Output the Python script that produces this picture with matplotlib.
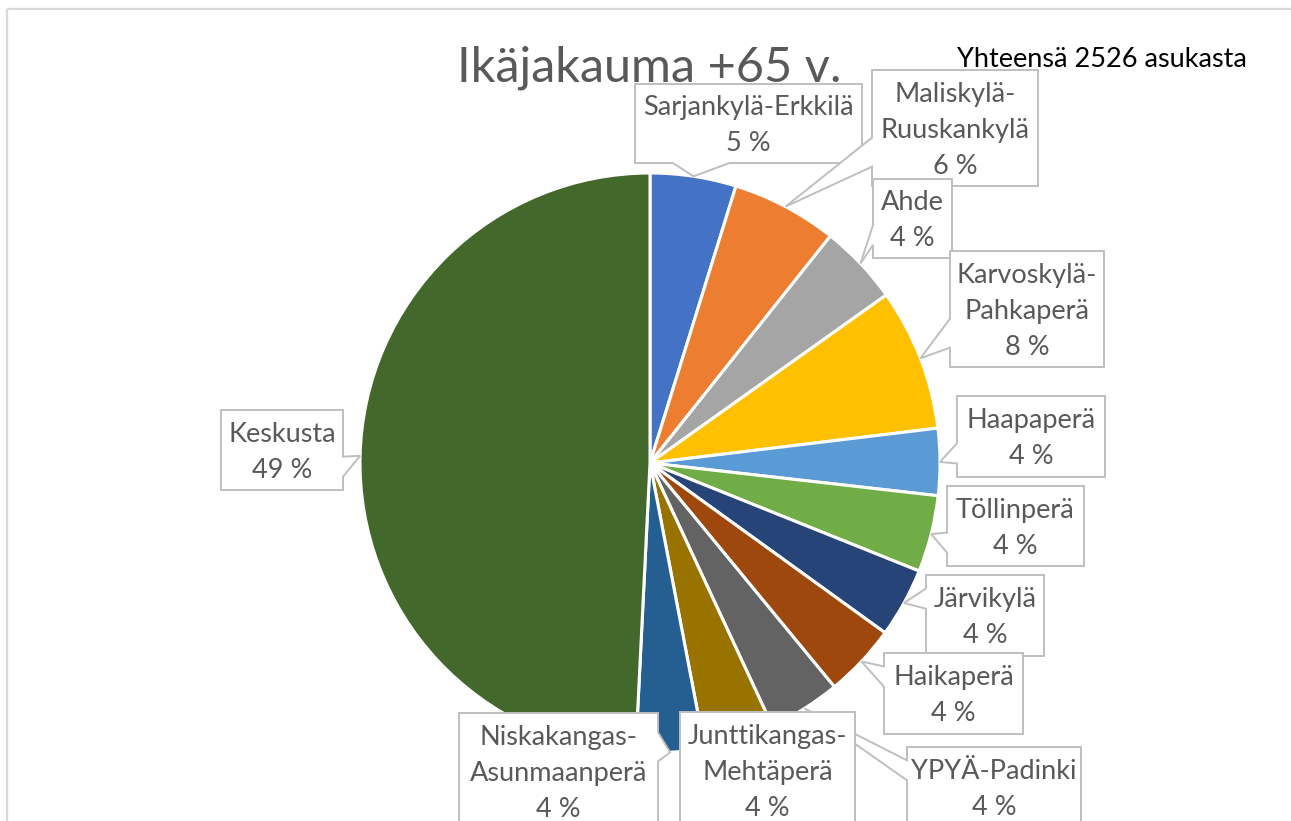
import matplotlib
matplotlib.use("Agg")
import matplotlib.pyplot as plt
from matplotlib.patches import Polygon
import numpy as np

# ---------------- data ----------------
areas = ["Sarjankylä-Erkkilä", "Maliskylä-\nRuuskankylä", "Ahde", "Karvoskylä-\nPahkaperä",
         "Haapaperä", "Töllinperä", "Järvikylä", "Haikaperä", "YPYÄ-Padinki",
         "Junttikangas-\nMehtäperä", "Niskakangas-\nAsunmaanperä", "Keskusta"]
residents = [121, 149, 113, 200, 94, 108, 98, 103, 102, 99, 96, 1243]
colors = ["#4472C4", "#ED7D31", "#A5A5A5", "#FFC000", "#5B9BD5", "#70AD47",
          "#264478", "#9E480E", "#636363", "#997300", "#255E91", "#43682B"]
title = "Ikäjakauma +65 v."
total_note = "Yhteensä 2526 asukasta"

# ---------------- layout (pixel coordinates, y downwards) ----------------
W, H = 1291, 821
CX, CY, R = 650, 463, 290
boxes = [
    (635, 84, 862, 163),
    (872, 70, 1038, 186),
    (873, 179, 952, 258),
    (950, 251, 1104, 367),
    (957, 396, 1105, 477),
    (947, 486, 1084, 566),
    (926, 575, 1044, 656),
    (884, 653, 1023, 734),
    (907, 747, 1081, 827),
    (680, 712, 855, 828),
    (459, 713, 658, 829),
    (221, 410, 343, 490),
]

FONT = "Lato"
LABEL_PT = 19.5
TEXT_GRAY = "#595959"

fig = plt.figure(figsize=(W / 100, H / 100), dpi=100)
ax = fig.add_axes([0, 0, 1, 1])

def Y(y):
    return H - y

total = sum(residents)
ax.pie(residents, colors=colors, startangle=90, counterclock=False,
       center=(CX, Y(CY)), radius=R,
       wedgeprops=dict(edgecolor="white", linewidth=2.2))
ax.set_xlim(0, W)
ax.set_ylim(0, H)
ax.set_aspect("auto")
ax.axis("off")

# outer chart frame (top and left edges visible)
ax.plot([7, W + 5], [Y(9), Y(9)], color="#D9D9D9", linewidth=1.6, zorder=1,
        solid_capstyle="butt")
ax.plot([7, 7], [Y(9), Y(H + 5)], color="#D9D9D9", linewidth=1.6, zorder=1,
        solid_capstyle="butt")


def callout(x0, y0, x1, y1, tx, ty):
    """Office wedgeRectCallout polygon in image coords."""
    w, h = x1 - x0, y1 - y0
    hc, vc = (x0 + x1) / 2, (y0 + y1) / 2
    dx, dy = tx - hc, ty - vc
    inside = x0 <= tx <= x1 and y0 <= ty <= y1
    pts = [(x0, y0), (x1, y0), (x1, y1), (x0, y1)]
    if inside:
        return pts
    xa = x0 + w * (7 if dx > 0 else 2) / 12
    xb = x0 + w * (10 if dx > 0 else 5) / 12
    ya = y0 + h * (7 if dy > 0 else 2) / 12
    yb = y0 + h * (10 if dy > 0 else 5) / 12
    if abs(dx * h) > abs(dy * w):
        if dx < 0:   # left side
            pts = [(x0, y0), (x1, y0), (x1, y1), (x0, y1), (x0, yb), (tx, ty), (x0, ya)]
        else:        # right side
            pts = [(x0, y0), (x1, y0), (x1, ya), (tx, ty), (x1, yb), (x1, y1), (x0, y1)]
    else:
        if dy < 0:   # top side
            pts = [(x0, y0), (xa, y0), (tx, ty), (xb, y0), (x1, y0), (x1, y1), (x0, y1)]
        else:        # bottom side
            pts = [(x0, y0), (x1, y0), (x1, y1), (xb, y1), (tx, ty), (xa, y1), (x0, y1)]
    return pts


cum = 0.0
for i, (name, v) in enumerate(zip(areas, residents)):
    mid = (cum + v / 2) / total * 2 * np.pi
    cum += v
    tx = CX + R * np.sin(mid)
    ty = CY - R * np.cos(mid)
    x0, y0, x1, y1 = boxes[i]
    pts = callout(x0, y0, x1, y1, tx, ty)
    poly = Polygon([(px, Y(py)) for px, py in pts], closed=True, facecolor="white",
                   edgecolor="#BFBFBF", linewidth=1.4, joinstyle="miter", zorder=3 + i)
    ax.add_patch(poly)
    pct = round(v / total * 100)
    txt = f"{name}\n{pct} %"
    ax.text((x0 + x1) / 2, Y((y0 + y1) / 2 + 2), txt, ha="center", va="center",
            family=FONT, fontsize=LABEL_PT, color=TEXT_GRAY, linespacing=1.55,
            zorder=3 + i + 0.5)

fig.text(649 / W, 1 - 82 / H, title, ha="center", va="baseline", family=FONT,
         fontsize=35, color=TEXT_GRAY)
fig.text(957 / W, 1 - 67 / H, total_note, ha="left", va="baseline", family=FONT,
         fontsize=19.5, color="black")

fig.savefig("out.png", dpi=100)
